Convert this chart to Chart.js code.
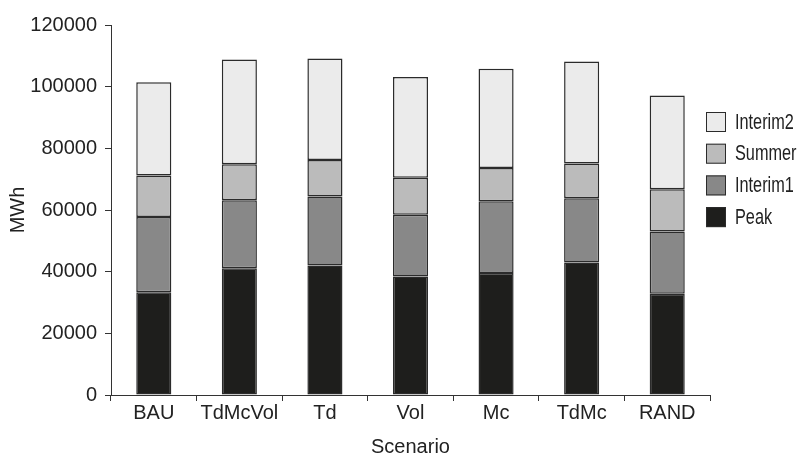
<!DOCTYPE html>
<html>
<head>
<meta charset="utf-8">
<script src="https://cdn.jsdelivr.net/npm/chart.js@4"></script>
<style>
html,body{margin:0;padding:0;background:#fff;}
#wrap{width:802px;height:459px;position:relative;}
</style>
</head>
<body>
<div id="wrap"><canvas id="c" width="802" height="459"></canvas></div>
<script>
const categories = ["BAU", "TdMcVol", "Td", "Vol", "Mc", "TdMc", "RAND"];
const peak     = [33300, 41100, 42000, 38400, 39600, 43000, 32800];
const interim1 = [24400, 22100, 22400, 20100, 23200, 20800, 20200];
const summer   = [13500, 11600, 11800, 12000, 10800, 11300, 13700];
const interim2 = [30200, 34000, 32900, 32600, 32200, 33100, 30400];
const yTicks   = [0, 20000, 40000, 60000, 80000, 100000, 120000];

const FONT = "'Liberation Sans', Arial, Helvetica, sans-serif";
const BORDER = '#2b2b2b';
const TEXT = '#222222';

const legendPlugin = {
  id: 'sideLegend',
  afterDraw(chart) {
    const ctx = chart.ctx;
    const items = chart.data.datasets.slice().reverse();
    ctx.save();
    ctx.textBaseline = 'middle';
    ctx.textAlign = 'left';
    items.forEach((ds, i) => {
      const x = 706, y = 112 + i * 31.7;
      ctx.fillStyle = ds.backgroundColor;
      ctx.fillRect(x, y, 20, 20);
      ctx.strokeStyle = BORDER;
      ctx.lineWidth = 1;
      ctx.strokeRect(x + 0.5, y + 0.5, 19, 19);
      ctx.save();
      ctx.translate(735, y + 10.5);
      ctx.scale(0.74, 1);
      ctx.font = "22px " + FONT;
      ctx.fillStyle = TEXT;
      ctx.fillText(ds.label, 0, 0);
      ctx.restore();
    });
    ctx.restore();
  }
};

const mk = (label, data, color) => ({
  label, data, backgroundColor: color, borderColor: BORDER, borderWidth: 1.5,
  borderSkipped: false, barPercentage: 0.41, categoryPercentage: 1.0
});

new Chart(document.getElementById('c'), {
  type: 'bar',
  data: {
    labels: categories,
    datasets: [
      mk('Peak', peak, '#1e1e1c'),
      mk('Interim1', interim1, '#888888'),
      mk('Summer', summer, '#bbbbbb'),
      mk('Interim2', interim2, '#ebebeb')
    ]
  },
  options: {
    responsive: false,
    animation: false,
    devicePixelRatio: 1,
    layout: { padding: { left: 0, right: 92, top: 25, bottom: 0 } },
    plugins: { legend: { display: false }, tooltip: { enabled: false } },
    scales: {
      x: {
        stacked: true,
        grid: { display: true, offset: true, drawOnChartArea: false, drawTicks: true, tickLength: 6, color: '#333', lineWidth: 1 },
        border: { display: true, color: '#333', width: 1 },
        ticks: { color: TEXT, font: { family: FONT, size: 20 }, padding: 0, maxRotation: 0, autoSkip: false },
        title: { display: true, text: 'Scenario', color: TEXT, font: { family: FONT, size: 20 }, padding: { top: 10, bottom: 0 } }
      },
      y: {
        stacked: true,
        min: 0, max: 120000,
        afterBuildTicks(scale) { scale.ticks = yTicks.map(v => ({ value: v })); },
        afterFit(scale) { scale.width = 111; },
        grid: { display: true, drawOnChartArea: false, drawTicks: true, tickLength: 6, color: '#333', lineWidth: 1 },
        border: { display: true, color: '#333', width: 1 },
        ticks: { color: TEXT, font: { family: FONT, size: 20 }, padding: 8, callback: v => String(v) },
        title: { display: true, text: 'MWh', color: TEXT, font: { family: FONT, size: 20 }, padding: { top: 6, bottom: 0 } }
      }
    }
  },
  plugins: [legendPlugin]
});
</script>
</body>
</html>
